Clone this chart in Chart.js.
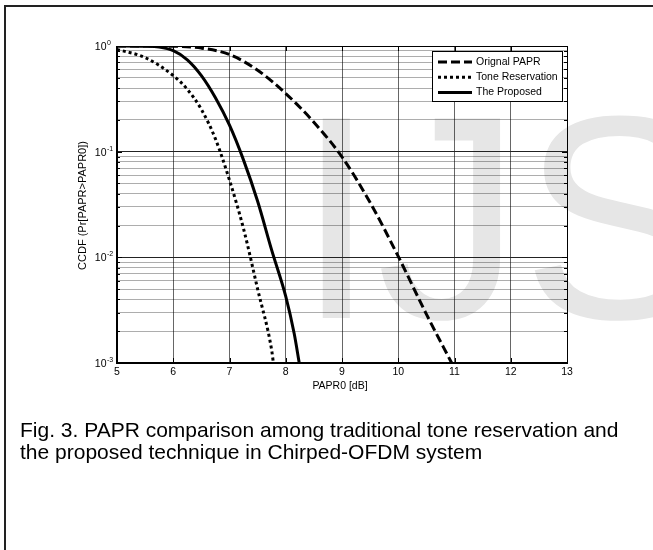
<!DOCTYPE html>
<html>
<head>
<meta charset="utf-8">
<script src="https://cdn.jsdelivr.net/npm/chart.js@4"></script>
<style>
    html, body { margin: 0; padding: 0; background: #fff; }
    body { width: 653px; height: 550px; position: relative; overflow: hidden; }
    #frame {
        position: absolute; left: 4px; top: 5px; width: 700px; height: 600px;
        border-top: 2px solid #222; border-left: 2px solid #222;
    }
    #wrap { position: absolute; left: 0; top: 0; width: 653px; height: 550px; }
    #caption {
        position: absolute; left: 20px; top: 419px;
        font-family: 'Liberation Sans', Arial, sans-serif;
        font-size: 21px; line-height: 22px; color: #000; white-space: nowrap;
    }
</style>
</head>
<body>
<div id="frame"></div>
<div id="wrap"><canvas id="chart"></canvas></div>
<div id="caption">Fig. 3. PAPR comparison among traditional tone reservation and<br>the proposed technique in Chirped-OFDM system</div>
<script>
// 曲線資料 (PAPR0 [dB] -> CCDF)
const originalX = [5, 5.5, 6, 6.5, 7, 7.5, 8, 8.5, 9, 9.5, 10, 10.5, 10.95];
const originalY = [1.0, 1.0, 0.995, 0.955, 0.83, 0.59, 0.355, 0.19, 0.089, 0.033, 0.0102, 0.0029, 0.001];

const toneX = [5, 5.5, 6, 6.25, 6.5, 6.75, 7, 7.25, 7.5, 7.75, 7.78];
const toneY = [0.93, 0.776, 0.525, 0.389, 0.251, 0.132, 0.0537, 0.0186, 0.00501, 0.00132, 0.001];

const proposedX = [5, 5.5, 5.75, 6, 6.25, 6.5, 6.75, 7, 7.25, 7.5, 7.75, 8, 8.15, 8.24];
const proposedY = [1.0, 0.995, 0.977, 0.902, 0.741, 0.525, 0.324, 0.178, 0.0832, 0.0339, 0.0117, 0.00427, 0.0019, 0.001];

const seriesLabels = ['Orignal PAPR', 'Tone Reservation', 'The Proposed'];

// 座標軸刻度
const xTicks = [5, 6, 7, 8, 9, 10, 11, 12, 13];
const yDecades = [1, 0.1, 0.01, 0.001];
const yExponents = ['0', '-1', '-2', '-3'];
const yMinorMantissas = [2, 3, 4, 5, 6, 7, 8, 9];

const xAxisTitle = 'PAPR0 [dB]';
const yAxisTitle = 'CCDF (Pr[PAPR>PAPR0])';
const watermarkText = 'IJS';

const FONT = "'Liberation Sans', Arial, sans-serif";

function toPoints(xs, ys) {
    return xs.map((v, i) => ({ x: v, y: ys[i] }));
}

function isDecade(v) {
    const l = Math.log10(v);
    return Math.abs(l - Math.round(l)) < 1e-6;
}

const matlabPlugin = {
    id: 'matlab',
    beforeDraw(chart) {
        // 浮水印
        const ctx = chart.ctx;
        ctx.save();
        ctx.fillStyle = '#e6e6e6';
        ctx.font = '290px ' + FONT;
        ctx.textAlign = 'left';
        ctx.textBaseline = 'alphabetic';
        ctx.fillText(watermarkText, 296, 318);
        ctx.restore();
    },
    afterDraw(chart) {
        const ctx = chart.ctx;
        const a = chart.chartArea;
        const xs = chart.scales.x;
        const ys = chart.scales.y;
        ctx.save();

        // 外框
        ctx.strokeStyle = '#000';
        ctx.lineWidth = 1;
        ctx.strokeRect(a.left + 0.5, a.top + 0.5, a.right - a.left, a.bottom - a.top);
        ctx.lineWidth = 2;
        ctx.beginPath();
        ctx.moveTo(a.left, a.top);
        ctx.lineTo(a.left, a.bottom);
        ctx.lineTo(a.right + 1, a.bottom);
        ctx.stroke();

        // 內向刻度
        ctx.lineWidth = 1;
        ctx.beginPath();
        xTicks.forEach(v => {
            const px = Math.round(xs.getPixelForValue(v)) + 0.5;
            ctx.moveTo(px, a.bottom); ctx.lineTo(px, a.bottom - 5);
            ctx.moveTo(px, a.top); ctx.lineTo(px, a.top + 5);
        });
        ys.ticks.forEach(t => {
            const py = Math.round(ys.getPixelForValue(t.value)) + 0.5;
            const len = isDecade(t.value) ? 5 : 3;
            ctx.moveTo(a.left, py); ctx.lineTo(a.left + len, py);
            ctx.moveTo(a.right, py); ctx.lineTo(a.right - len, py);
        });
        ctx.stroke();

        // 刻度標籤
        ctx.fillStyle = '#000';
        ctx.font = '10.5px ' + FONT;
        ctx.textAlign = 'center';
        ctx.textBaseline = 'middle';
        xTicks.forEach(v => {
            ctx.fillText(String(v), xs.getPixelForValue(v), 372);
        });
        yDecades.forEach((v, i) => {
            const py = ys.getPixelForValue(v);
            ctx.font = '10.5px ' + FONT;
            ctx.textAlign = 'right';
            ctx.textBaseline = 'middle';
            ctx.fillText('10', 106.5, py + 1);
            ctx.font = '7px ' + FONT;
            ctx.textAlign = 'left';
            ctx.textBaseline = 'alphabetic';
            ctx.fillText(yExponents[i], 107, py - 1);
        });

        // 軸標題
        ctx.font = '10.5px ' + FONT;
        ctx.textAlign = 'center';
        ctx.textBaseline = 'middle';
        ctx.fillText(xAxisTitle, (a.left + a.right) / 2 - 2, 386);
        ctx.save();
        ctx.translate(83, (a.top + a.bottom) / 2 + 1);
        ctx.rotate(-Math.PI / 2);
        ctx.font = '11px ' + FONT;
        ctx.fillText(yAxisTitle, 0, 0);
        ctx.restore();

        // 圖例
        const lx = 432.5, ly = 51.5, lw = 130, lh = 50;
        ctx.fillStyle = '#fff';
        ctx.fillRect(lx, ly, lw, lh);
        ctx.strokeStyle = '#000';
        ctx.lineWidth = 1;
        ctx.strokeRect(lx, ly, lw, lh);
        chart.data.datasets.forEach((ds, i) => {
            const ey = 62 + i * 15.3;
            ctx.save();
            ctx.strokeStyle = ds.borderColor;
            ctx.lineWidth = ds.borderWidth;
            ctx.setLineDash(ds.borderDash || []);
            ctx.beginPath();
            ctx.moveTo(438, ey);
            ctx.lineTo(472, ey);
            ctx.stroke();
            ctx.restore();
            ctx.fillStyle = '#000';
            ctx.font = '10.5px ' + FONT;
            ctx.textAlign = 'left';
            ctx.textBaseline = 'middle';
            ctx.fillText(ds.label, 476, ey);
        });

        ctx.restore();
    }
};

const ctx = document.getElementById('chart').getContext('2d');
new Chart(ctx, {
    type: 'line',
    data: {
        datasets: [
            {
                label: seriesLabels[0],
                data: toPoints(originalX, originalY),
                borderColor: '#000',
                borderWidth: 3,
                borderDash: [9, 4],
                pointRadius: 0,
                cubicInterpolationMode: 'monotone',
                fill: false
            },
            {
                label: seriesLabels[1],
                data: toPoints(toneX, toneY),
                borderColor: '#000',
                borderWidth: 3,
                borderDash: [3, 3],
                pointRadius: 0,
                cubicInterpolationMode: 'monotone',
                fill: false
            },
            {
                label: seriesLabels[2],
                data: toPoints(proposedX, proposedY),
                borderColor: '#000',
                borderWidth: 3,
                pointRadius: 0,
                cubicInterpolationMode: 'monotone',
                fill: false
            }
        ]
    },
    options: {
        responsive: true,
        maintainAspectRatio: false,
        animation: false,
        layout: {
            padding: { left: 117, top: 46, right: 86, bottom: 187 }
        },
        scales: {
            x: {
                type: 'linear',
                min: 5,
                max: 13,
                ticks: { display: false, stepSize: 1 },
                grid: { color: 'rgba(0,0,0,0.6)', lineWidth: 1, drawTicks: false },
                border: { display: false },
                afterFit: s => { s.height = 0; }
            },
            y: {
                type: 'logarithmic',
                min: 0.001,
                max: 1,
                ticks: { display: false, autoSkip: false },
                afterBuildTicks: s => {
                    const t = [];
                    yDecades.forEach(d => {
                        t.push({ value: d });
                        if (d < 1) {
                            yMinorMantissas.forEach(m => t.push({ value: +(d * m).toPrecision(3) }));
                        }
                    });
                    t.sort((p, q) => p.value - q.value);
                    s.ticks = t;
                },
                grid: {
                    color: c => (c.tick && isDecade(c.tick.value)) ? '#222' : 'rgba(0,0,0,0.32)',
                    lineWidth: 1,
                    drawTicks: false
                },
                border: { display: false },
                afterFit: s => { s.width = 0; }
            }
        },
        plugins: {
            legend: { display: false },
            tooltip: { enabled: false }
        }
    },
    plugins: [matlabPlugin]
});
</script>
</body>
</html>
